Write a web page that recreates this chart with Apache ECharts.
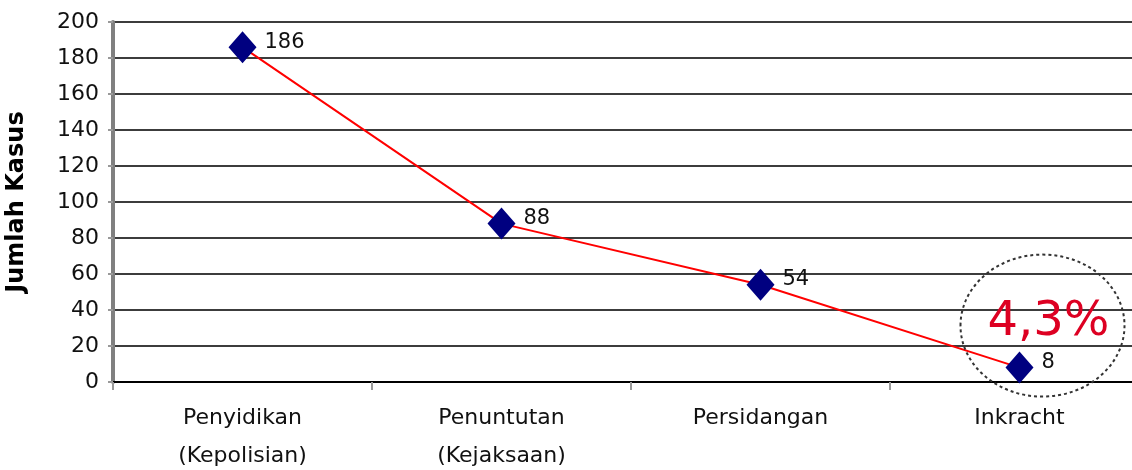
<!DOCTYPE html>
<html>
<head>
<meta charset="utf-8">
<script src="https://cdn.jsdelivr.net/npm/echarts@6/dist/echarts.min.js"></script>
<style>
  html, body { margin: 0; padding: 0; background: #fff; }
  #chart { width: 1132px; height: 470px; }
</style>
</head>
<body>
<div id="chart"></div>
<script>
// Case counts through each stage of the legal process
const stages = ['Penyidikan\n(Kepolisian)', 'Penuntutan\n(Kejaksaan)', 'Persidangan', 'Inkracht'];
const cases = [186, 88, 54, 8];
const yTicks = { min: 0, max: 200, step: 20 };
const yTitle = 'Jumlah Kasus';

const FONT = 'DejaVu Sans';
const chart = echarts.init(document.getElementById('chart'), null, { renderer: 'canvas' });

chart.setOption({
  animation: false,
  backgroundColor: '#ffffff',
  grid: {
    left: 113, right: -17, top: 22, bottom: 88,
    containLabel: false, outerBoundsMode: 'none'
  },
  xAxis: {
    type: 'category',
    data: stages,
    boundaryGap: true,
    axisLine: { show: true, lineStyle: { color: '#000', width: 2 } },
    axisTick: { show: true, length: 8, lineStyle: { color: '#999', width: 2 } },
    axisLabel: {
      color: '#111', fontFamily: FONT, fontSize: 22, lineHeight: 38, margin: 17,
      interval: 0
    },
    splitLine: { show: false }
  },
  yAxis: {
    type: 'value',
    min: yTicks.min, max: yTicks.max, interval: yTicks.step,
    name: yTitle,
    nameLocation: 'middle',
    nameRotate: 90,
    nameGap: 84,
    nameMoveOverlap: false,
    nameTextStyle: { color: '#000', fontFamily: FONT, fontWeight: 'bold', fontSize: 24 },
    axisLine: { show: true, lineStyle: { color: '#808080', width: 4 } },
    axisTick: { show: true, length: 5, lineStyle: { color: '#999', width: 2 } },
    axisLabel: { color: '#111', fontFamily: FONT, fontSize: 22, margin: 14 },
    splitLine: { show: true, lineStyle: { color: '#3c3c3c', width: 2 } }
  },
  series: [{
    type: 'line',
    data: cases,
    lineStyle: { color: '#ff0000', width: 2 },
    symbol: 'diamond',
    symbolSize: [28, 32],
    itemStyle: { color: '#000080' },
    label: {
      show: true, position: 'right', distance: 8, offset: [0, -5],
      color: '#111', fontFamily: FONT, fontSize: 21
    },
    z: 3
  }]
});

// Share of cases that reach a final verdict, circled next to the last stage
const lastIdx = cases.length - 1;
const share = (cases[lastIdx] / cases[0] * 100).toFixed(1).replace('.', ',') + '%';
const p = chart.convertToPixel({ seriesIndex: 0 }, [lastIdx, cases[lastIdx]]);
const cx = p[0] + 23, cy = p[1] - 42;

chart.setOption({
  graphic: [
    {
      type: 'ellipse',
      shape: { cx: cx, cy: cy, rx: 82, ry: 71 },
      style: { fill: 'none', stroke: '#333', lineWidth: 2, lineDash: [3, 3] },
      z: 10
    },
    {
      type: 'text',
      x: cx + 6, y: cy - 3,
      style: {
        text: share, fill: '#dd0022', font: 'normal 48px "DejaVu Sans"',
        align: 'center', verticalAlign: 'middle'
      },
      z: 11
    }
  ]
});
</script>
</body>
</html>
